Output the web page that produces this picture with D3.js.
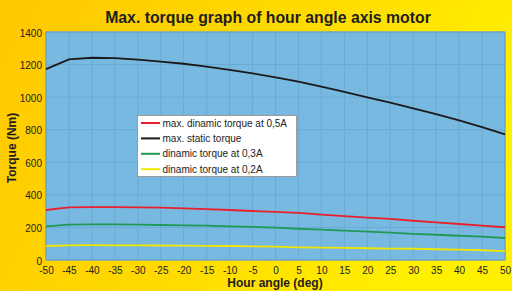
<!DOCTYPE html>
<html><head><meta charset="utf-8">
<script src="https://cdn.jsdelivr.net/npm/d3@7"></script>
<style>html,body{margin:0;padding:0;overflow:hidden;}</style>
</head><body>
<svg id="c" width="512" height="291"></svg>
<script>
const angles = [-50,-45,-40,-35,-30,-25,-20,-15,-10,-5,0,5,10,15,20,25,30,35,40,45,50];
const staticTorque = [1172,1232,1242,1240,1230,1218,1205,1187,1168,1146,1122,1095,1064,1033,999,966,931,896,857,816,772];
const dyn05 = [307,323,325,325,323,321,317,313,307,301,295,289,279,270,260,252,241,231,221,211,201];
const dyn03 = [207,217,219,219,217,215,213,211,207,203,199,192,186,180,174,168,161,155,149,143,135];
const dyn02 = [86,90,91,90,90,89,88,87,86,84,82,78,76,74,72,70,69,66,64,60,55];
const xTicks = d3.range(-50, 51, 5);
const yTicks = d3.range(0, 1401, 200);
const seriesNames = ["max. dinamic torque at 0,5A","max. static torque","dinamic torque at 0,3A","dinamic torque at 0,2A"];
const seriesValues = [dyn05, staticTorque, dyn03, dyn02];
const seriesColors = ["#e8202a","#1a1a1a","#1f9a55","#f2e600"];

const svg = d3.select("#c");
const W = 512, H = 291;
const m = {l:46, r:505, t:32, b:260};
const defs = svg.append("defs");
const g = defs.append("linearGradient").attr("id","bg").attr("x1","0").attr("y1","0").attr("x2","1").attr("y2","0.3");
g.append("stop").attr("offset","0").attr("stop-color","#ffc800");
g.append("stop").attr("offset","0.6").attr("stop-color","#ffdc00");
g.append("stop").attr("offset","1").attr("stop-color","#fff000");
svg.append("rect").attr("width",W).attr("height",H).attr("fill","url(#bg)");

const x = d3.scaleLinear().domain([-50,50]).range([m.l,m.r]);
const y = d3.scaleLinear().domain([0,1400]).range([m.b,m.t]);

svg.append("rect").attr("x",m.l).attr("y",m.t).attr("width",m.r-m.l).attr("height",m.b-m.t)
  .attr("fill","#78b9e2");

// grid
svg.append("g").selectAll("line").data(xTicks).join("line")
  .attr("x1",d=>x(d)).attr("x2",d=>x(d)).attr("y1",m.t).attr("y2",m.b)
  .attr("stroke","#6aaad4").attr("stroke-width",1);
svg.append("g").selectAll("line").data(yTicks).join("line")
  .attr("y1",d=>y(d)).attr("y2",d=>y(d)).attr("x1",m.l).attr("x2",m.r)
  .attr("stroke","#6aaad4").attr("stroke-width",1);
svg.append("rect").attr("x",m.l).attr("y",m.t).attr("width",m.r-m.l).attr("height",m.b-m.t)
  .attr("fill","none").attr("stroke","#6f9fc0").attr("stroke-width",1);

// axes
const xAxis = svg.append("g").attr("transform",`translate(0,${m.b})`)
  .call(d3.axisBottom(x).tickValues(xTicks).tickFormat(d=>String(d)).tickSize(0).tickPadding(7));
const yAxis = svg.append("g").attr("transform",`translate(${m.l},0)`)
  .call(d3.axisLeft(y).tickValues(yTicks).tickFormat(d=>String(d)).tickSize(0).tickPadding(4));
[xAxis,yAxis].forEach(a=>{
  a.select(".domain").remove();
  a.selectAll("text").attr("font-family","Liberation Sans, Arial, sans-serif").attr("font-size",10).attr("fill","#222");
});
yAxis.selectAll("text").attr("dy","0.4em");

// lines
const line = d3.line().x((d,i)=>x(angles[i])).y(d=>y(d));
seriesValues.forEach((vals,i)=>{
  svg.append("path").datum(vals).attr("d",line).attr("fill","none")
    .attr("stroke",seriesColors[i]).attr("stroke-width",1.8);
});

// titles
const font = "Liberation Sans, Arial, sans-serif";
svg.append("text").attr("x",268).attr("y",23).attr("text-anchor","middle")
  .attr("font-family",font).attr("font-weight","bold").attr("font-size",15.8).attr("fill","#1e1e1e")
  .text("Max. torque graph of hour angle axis motor");
svg.append("text").attr("x",275).attr("y",287).attr("text-anchor","middle")
  .attr("font-family",font).attr("font-weight","bold").attr("font-size",12).attr("fill","#1e1e1e")
  .text("Hour angle (deg)");
svg.append("text").attr("transform","translate(16,148) rotate(-90)").attr("text-anchor","middle")
  .attr("font-family",font).attr("font-weight","bold").attr("font-size",12).attr("fill","#1e1e1e")
  .text("Torque (Nm)");

// legend
const lg = svg.append("g");
lg.append("rect").attr("x",137.5).attr("y",115.5).attr("width",159).attr("height",61)
  .attr("fill","#fff").attr("stroke","#9a9a9a").attr("stroke-width",1);
seriesNames.forEach((n,i)=>{
  const yy = 123 + i*15.4;
  lg.append("line").attr("x1",141).attr("x2",160).attr("y1",yy).attr("y2",yy)
    .attr("stroke",seriesColors[i]).attr("stroke-width",2);
  lg.append("text").attr("x",162.5).attr("y",yy).attr("dy","0.35em")
    .attr("font-family",font).attr("font-size",10).attr("fill","#222").text(n);
});
</script>
</body></html>
